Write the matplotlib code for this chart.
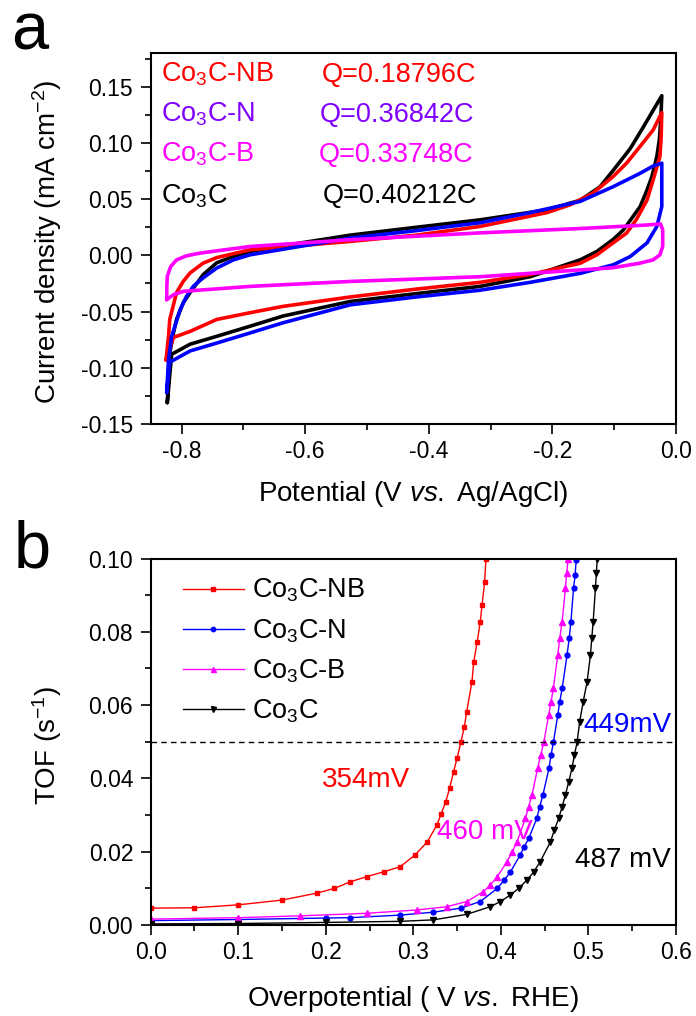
import matplotlib
matplotlib.use("Agg")
import matplotlib.pyplot as plt
from matplotlib.ticker import MultipleLocator, FormatStrFormatter

plt.rcParams["font.family"] = ["Liberation Sans", "DejaVu Sans"]
plt.rcParams["mathtext.fontset"] = "custom"
plt.rcParams["mathtext.rm"] = "Liberation Sans"
plt.rcParams["mathtext.it"] = "Liberation Sans:italic"
plt.rcParams["mathtext.bf"] = "Liberation Sans:bold"
plt.rcParams["axes.unicode_minus"] = False

# ---------------- panel a: CV loops (V vs Ag/AgCl, mA cm-2) ----------------
# anodic (upper) branch, then cathodic (lower) branch back to the start
cv_c_up_v = [-0.823, -0.821, -0.819, -0.813, -0.808, -0.797, -0.786, -0.765, -0.743, -0.716,
             -0.689, -0.608, -0.527, -0.420, -0.317, -0.209, -0.155, -0.123, -0.101, -0.074,
             -0.053, -0.037, -0.023]
cv_c_up_j = [-0.131, -0.110, -0.087, -0.069, -0.057, -0.042, -0.033, -0.0172, -0.0066, -0.001,
             0.0035, 0.011, 0.018, 0.025, 0.0316, 0.0405, 0.049, 0.061, 0.076, 0.095,
             0.114, 0.129, 0.142]
cv_c_dn_v = [-0.023, -0.0247, -0.027, -0.031, -0.039, -0.047, -0.058, -0.069, -0.085, -0.102,
             -0.128, -0.155, -0.236, -0.317, -0.420, -0.527, -0.636, -0.689, -0.743, -0.786,
             -0.816, -0.823]
cv_c_dn_j = [0.142, 0.120, 0.1026, 0.088, 0.070, 0.058, 0.0434, 0.035, 0.0227, 0.014,
             0.0035, -0.004, -0.019, -0.0276, -0.034, -0.041, -0.054, -0.063, -0.072, -0.079,
             -0.088, -0.131]

cv_nb_up_v = [-0.825, -0.821, -0.819, -0.813, -0.808, -0.797, -0.786, -0.765, -0.743, -0.689,
              -0.527, -0.420, -0.317, -0.209, -0.171, -0.134, -0.102, -0.080, -0.058, -0.037,
              -0.023]
cv_nb_up_j = [-0.093, -0.072, -0.057, -0.044, -0.033, -0.023, -0.0156, -0.0069, -0.002, 0.005,
              0.0124, 0.018, 0.0257, 0.038, 0.045, 0.0555, 0.070, 0.082, 0.097, 0.1115,
              0.127]
cv_nb_dn_v = [-0.023, -0.024, -0.026, -0.037, -0.047, -0.064, -0.080, -0.102, -0.128, -0.155,
              -0.236, -0.317, -0.420, -0.527, -0.636, -0.689, -0.743, -0.786, -0.813, -0.825]
cv_nb_dn_j = [0.127, 0.1056, 0.088, 0.067, 0.049, 0.032, 0.0198, 0.011, 0.0005, -0.007,
              -0.017, -0.024, -0.030, -0.037, -0.0454, -0.051, -0.057, -0.0676, -0.073, -0.093]

cv_n_up_v = [-0.824, -0.821, -0.816, -0.802, -0.792, -0.781, -0.765, -0.743, -0.716, -0.689,
             -0.608, -0.527, -0.420, -0.317, -0.236, -0.155, -0.102, -0.058, -0.037, -0.023]
cv_n_up_j = [-0.122, -0.093, -0.072, -0.048, -0.0365, -0.0276, -0.020, -0.0113, -0.004, 0.0005,
             0.008, 0.0154, 0.022, 0.029, 0.038, 0.048, 0.061, 0.073, 0.0795, 0.082]
cv_n_dn_v = [-0.023, -0.023, -0.031, -0.047, -0.074, -0.101, -0.155, -0.236, -0.317, -0.420,
             -0.527, -0.636, -0.689, -0.743, -0.786, -0.819, -0.824]
cv_n_dn_j = [0.082, 0.0434, 0.0257, 0.011, -0.001, -0.0083, -0.016, -0.024, -0.031, -0.037,
             -0.044, -0.060, -0.069, -0.078, -0.085, -0.095, -0.122]

cv_b_up_v = [-0.824, -0.8237, -0.823, -0.8175, -0.808, -0.792, -0.770, -0.743, -0.689, -0.527,
             -0.317, -0.150, -0.047, -0.025, -0.0215]
cv_b_up_j = [-0.0394, -0.0276, -0.0187, -0.0099, -0.004, -0.0004, 0.002, 0.004, 0.0079, 0.0139,
             0.020, 0.024, 0.027, 0.028, 0.0227]
cv_b_dn_v = [-0.0215, -0.0215, -0.026, -0.037, -0.058, -0.102, -0.317, -0.527, -0.689, -0.797,
             -0.813, -0.824]
cv_b_dn_j = [0.0227, 0.008, 0.0005, -0.004, -0.0069, -0.011, -0.019, -0.0232, -0.0276, -0.032,
             -0.035, -0.0394]

cv_names = ["Co$_3$C-NB", "Co$_3$C-N", "Co$_3$C-B", "Co$_3$C"]
cv_charges = ["Q=0.18796C", "Q=0.36842C", "Q=0.33748C", "Q=0.40212C"]

# ---------------- panel b: TOF vs overpotential ----------------
tof_nb_x = [0.000, 0.050, 0.100, 0.150, 0.190, 0.210, 0.228, 0.247, 0.266, 0.285, 0.302,
            0.316, 0.327, 0.3316, 0.337, 0.3415, 0.346, 0.350, 0.3545, 0.3583, 0.361, 0.367,
            0.369, 0.373, 0.3765, 0.3785, 0.3815, 0.383]
tof_nb_y = [0.0046, 0.0047, 0.0055, 0.0068, 0.0087, 0.0100, 0.0118, 0.0132, 0.0145, 0.0159,
            0.0191, 0.0227, 0.0273, 0.0302, 0.0336, 0.0373, 0.0418, 0.0455, 0.050, 0.0541,
            0.0582, 0.0664, 0.0718, 0.0773, 0.0828, 0.0873, 0.0937, 0.0999]

tof_n_x = [0.000, 0.100, 0.200, 0.228, 0.285, 0.323, 0.354, 0.3765, 0.396, 0.404, 0.411,
           0.422, 0.4268, 0.432, 0.441, 0.4444, 0.448, 0.455, 0.4573, 0.460, 0.465, 0.4672,
           0.470, 0.4756, 0.478, 0.480, 0.483, 0.4848, 0.486]
tof_n_y = [0.0012, 0.0015, 0.0019, 0.0020, 0.0027, 0.0035, 0.0046, 0.0064, 0.0100, 0.0123,
           0.0145, 0.0191, 0.0214, 0.0237, 0.0291, 0.0323, 0.0355, 0.0428, 0.0464, 0.0498,
           0.0573, 0.0609, 0.0646, 0.0737, 0.0782, 0.0828, 0.0919, 0.0955, 0.0996]

tof_b_x = [0.000, 0.100, 0.171, 0.247, 0.304, 0.3385, 0.361, 0.380, 0.388, 0.396, 0.407,
           0.4131, 0.4185, 0.428, 0.4318, 0.4356, 0.442, 0.4455, 0.449, 0.4546, 0.4573, 0.460,
           0.465, 0.4672, 0.470, 0.4737, 0.4752, 0.4768]
tof_b_y = [0.0016, 0.0020, 0.0025, 0.0032, 0.0041, 0.0050, 0.0064, 0.0091, 0.0109, 0.0132,
           0.0173, 0.0200, 0.0227, 0.0291, 0.0323, 0.0355, 0.0428, 0.0464, 0.0498, 0.0573,
           0.0609, 0.0646, 0.0737, 0.0782, 0.0828, 0.0919, 0.0960, 0.0999]

tof_c_x = [0.000, 0.100, 0.200, 0.285, 0.323, 0.361, 0.388, 0.3994, 0.411, 0.4203, 0.430,
           0.4375, 0.445, 0.4566, 0.4611, 0.466, 0.470, 0.4737, 0.4775, 0.4813, 0.484, 0.487,
           0.490, 0.494, 0.4985, 0.5023, 0.5038, 0.5054, 0.508, 0.5091, 0.510]
tof_c_y = [0.0003, 0.0004, 0.0007, 0.0010, 0.0014, 0.0029, 0.0050, 0.0064, 0.0082, 0.0100,
           0.0123, 0.0145, 0.0173, 0.0227, 0.0259, 0.0291, 0.0323, 0.0355, 0.0391, 0.0428,
           0.0464, 0.0498, 0.0555, 0.0609, 0.0664, 0.0737, 0.0782, 0.0828, 0.0919, 0.0960,
           0.0999]

tof_names = ["Co$_3$C-NB", "Co$_3$C-N", "Co$_3$C-B", "Co$_3$C"]
tof_notes = ["354mV", "449mV", "460 mV", "487 mV"]
tof_target = 0.05

W, H = 696, 1016


def fx(px):
    return px / W


def fy(py):
    return 1 - py / H


fig = plt.figure(figsize=(W / 100, H / 100), dpi=100)

ax1 = fig.add_axes([fx(150.6), fy(424), 525.4 / W, 371 / H])
ax2 = fig.add_axes([fx(150.6), fy(925), 525.4 / W, 366.5 / H])

text_colors = ["#FF0000", "#8000FF", "#FF00FF", "#000000"]

line_kw = dict(lw=2.6, solid_joinstyle="round", solid_capstyle="round")
ax1.plot(cv_c_up_v + cv_c_dn_v, cv_c_up_j + cv_c_dn_j, color="black", **line_kw)
ax1.plot(cv_nb_up_v + cv_nb_dn_v, cv_nb_up_j + cv_nb_dn_j, color="#FF0000", **line_kw)
ax1.plot(cv_n_up_v + cv_n_dn_v, cv_n_up_j + cv_n_dn_j, color="#0000FF", **line_kw)
ax1.plot(cv_b_up_v + cv_b_dn_v, cv_b_up_j + cv_b_dn_j, color="#FF00FF", **line_kw)

ax1.set_xlim(-0.85, 0.0)
ax1.set_ylim(-0.15, 0.18)
ax1.xaxis.set_major_locator(MultipleLocator(0.2))
ax1.xaxis.set_minor_locator(MultipleLocator(0.1))
ax1.yaxis.set_major_locator(MultipleLocator(0.05))
ax1.yaxis.set_minor_locator(MultipleLocator(0.025))
ax1.xaxis.set_major_formatter(FormatStrFormatter("%.1f"))
ax1.yaxis.set_major_formatter(FormatStrFormatter("%.2f"))
ax1.set_xlabel("Potential (V $\\mathit{vs.}$ Ag/AgCl)", fontsize=20)
ax1.set_ylabel("Current density (mA cm$^{-2}$)", fontsize=20)
ax1.xaxis.set_label_coords(0.5, -0.148)
ax1.yaxis.set_label_coords(-0.165, 0.49)

rows_y = [82, 122, 162, 203]
q_x = [322, 320, 319, 323]
for name, q, c, ry, qx in zip(cv_names, cv_charges, text_colors, rows_y, q_x):
    fig.text(fx(161), fy(ry), name, color=c, fontsize=19.5, va="baseline")
    fig.text(fx(qx), fy(ry), q, color=c, fontsize=19.5, va="baseline")

# panel b
ax2.plot(tof_nb_x, tof_nb_y, color="#FF0000", lw=1.0, marker="s", ms=3.5, label=tof_names[0])
ax2.plot(tof_n_x, tof_n_y, color="#0000FF", lw=1.0, marker="o", ms=3.5, label=tof_names[1])
ax2.plot(tof_b_x, tof_b_y, color="#FF00FF", lw=1.0, marker="^", ms=4, label=tof_names[2])
ax2.plot(tof_c_x, tof_c_y, color="black", lw=1.0, marker="v", ms=4, label=tof_names[3])
ax2.axhline(tof_target, color="black", lw=1.0, ls=(0, (4, 3)))

ax2.set_xlim(0, 0.6)
ax2.set_ylim(0, 0.10)
ax2.xaxis.set_major_locator(MultipleLocator(0.1))
ax2.xaxis.set_minor_locator(MultipleLocator(0.05))
ax2.yaxis.set_major_locator(MultipleLocator(0.02))
ax2.yaxis.set_minor_locator(MultipleLocator(0.01))
ax2.xaxis.set_major_formatter(FormatStrFormatter("%.1f"))
ax2.yaxis.set_major_formatter(FormatStrFormatter("%.2f"))
ax2.set_xlabel("Overpotential ( V $\\mathit{vs.}$ RHE)", fontsize=20)
ax2.set_ylabel("TOF (s$^{-1}$)", fontsize=20)
ax2.xaxis.set_label_coords(0.5, -0.16)
ax2.yaxis.set_label_coords(-0.165, 0.49)

leg = ax2.legend(loc="upper left", bbox_to_anchor=(fx(183), fy(577)), bbox_transform=fig.transFigure,
                 frameon=False, fontsize=19.5, handlelength=2.25, handletextpad=0.3,
                 labelspacing=0.47, borderpad=0, borderaxespad=0, numpoints=1, markerscale=0.9)

ax2.text(0.196, 0.0396, tof_notes[0], color="#FF0000", fontsize=20, va="center")
ax2.text(0.494, 0.0546, tof_notes[1], color="#0000FF", fontsize=20, va="center")
ax2.text(0.327, 0.0255, tof_notes[2], color="#FF00FF", fontsize=20, va="center")
ax2.text(0.485, 0.0177, tof_notes[3], color="black", fontsize=20, va="center")

for ax in (ax1, ax2):
    for s in ax.spines.values():
        s.set_linewidth(1.5)
    ax.tick_params(which="major", direction="out", length=7.5, width=1.2, labelsize=16.5, pad=4,
                   top=False, right=False)
    ax.tick_params(which="minor", direction="out", length=4, width=1.2, top=False, right=False)
    ax.tick_params(axis="y", which="major", pad=5)

fig.text(fx(11), fy(50), "a", fontsize=48, va="baseline")
fig.text(fx(14), fy(567), "b", fontsize=48, va="baseline")

fig.savefig("out.png", dpi=100)
